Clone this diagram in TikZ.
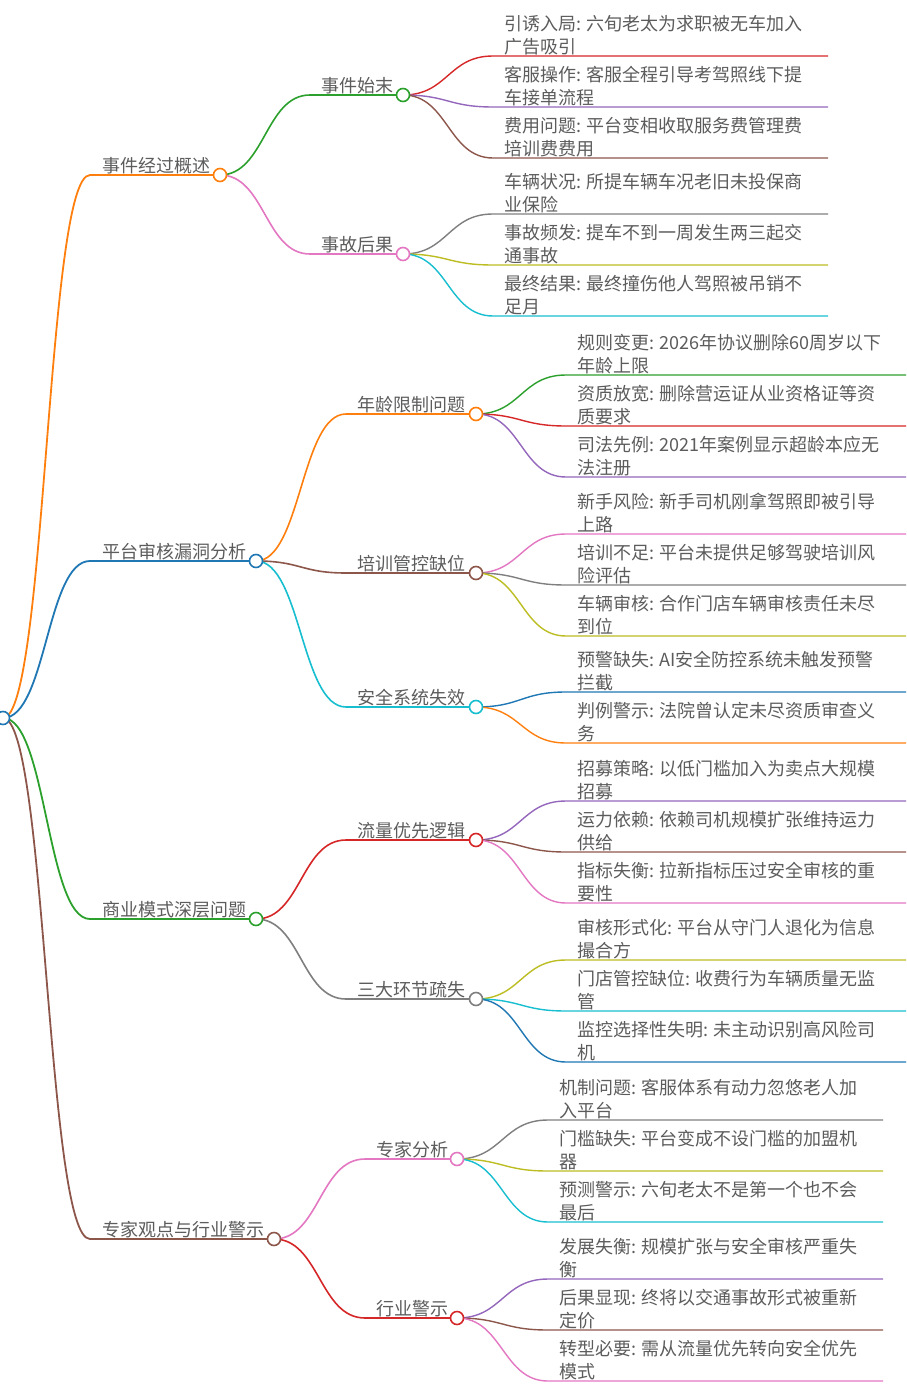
\documentclass[tikz,border=0pt]{standalone}
\usepackage{fontspec}
\usepackage{tikz}
\usetikzlibrary{calc,positioning}
\newfontfamily\cjk{Noto Sans CJK SC}
\definecolor{cblue}{HTML}{1F77B4}
\definecolor{corange}{HTML}{FF7F0E}
\definecolor{cgreen}{HTML}{2CA02C}
\definecolor{cred}{HTML}{D62728}
\definecolor{cpurple}{HTML}{9467BD}
\definecolor{cbrown}{HTML}{8C564B}
\definecolor{cpink}{HTML}{E377C2}
\definecolor{cgray}{HTML}{7F7F7F}
\definecolor{colive}{HTML}{BCBD22}
\definecolor{ccyan}{HTML}{17BECF}
\definecolor{txt}{HTML}{5C5C5C}
\tikzset{
    mm/.style = {to path={let \p1=(\tikztostart), \p2=(\tikztotarget) in
        .. controls ({(\x1+\x2)/2},\y1) and ({(\x1+\x2)/2},\y2) .. (\tikztotarget)}},
    lvone/.style = {line width=1.8},
    lvtwo/.style = {line width=1.6},
    lvleaf/.style = {line width=1.4},
    dot/.style = {circle, draw=#1, fill=white, line width=1.6, minimum size=13, inner sep=0},
    labtext/.style = {anchor=south west, inner sep=0, text=txt, font=\cjk\fontsize{18}{23}\selectfont},
    leaftext/.style = {anchor=south west, inner sep=0, align=left, text=txt, font=\cjk\fontsize{18}{23}\selectfont}
}

\begin{document}
\begin{tikzpicture}[x=1pt,y=-1pt]
                \useasboundingbox (0,0) rectangle (906,1388);
                \coordinate (root) at (3,718);

                % 事件经过概述
                \coordinate (gaishu) at (220,175);
                \coordinate (gaishu-s) at (90,175);
                \coordinate (shimo) at (403,95);
                \coordinate (shimo-s) at (310,95);
                \coordinate (houguo) at (403,254);
                \coordinate (houguo-s) at (310,254);
                \draw[lvone, corange] (root) to[mm] (gaishu-s) -- (gaishu);
                \draw[lvtwo, cgreen] (gaishu) to[mm] (shimo-s) -- (shimo);
                \draw[lvtwo, cpink] (gaishu) to[mm] (houguo-s) -- (houguo);

                \coordinate (yinyou) at (493,56);
                \coordinate (kefu) at (493,107);
                \coordinate (feiyong) at (493,158);
                \coordinate (cheliang) at (493,214);
                \coordinate (pinfa) at (493,265);
                \coordinate (jieguo) at (493,316);
                \draw[lvleaf, cred] (shimo) to[mm] (yinyou) -- ++(335,0);
                \draw[lvleaf, cpurple] (shimo) to[mm] (kefu) -- ++(335,0);
                \draw[lvleaf, cbrown] (shimo) to[mm] (feiyong) -- ++(335,0);
                \draw[lvleaf, cgray] (houguo) to[mm] (cheliang) -- ++(335,0);
                \draw[lvleaf, colive] (houguo) to[mm] (pinfa) -- ++(335,0);
                \draw[lvleaf, ccyan] (houguo) to[mm] (jieguo) -- ++(335,0);

                % 平台审核漏洞分析
                \coordinate (loudong) at (256,561);
                \coordinate (loudong-s) at (90,561);
                \coordinate (nianling) at (476,414);
                \coordinate (nianling-s) at (346,414);
                \coordinate (peixun) at (476,573);
                \coordinate (peixun-s) at (346,573);
                \coordinate (anquan) at (476,707);
                \coordinate (anquan-s) at (346,707);
                \draw[lvone, cblue] (root) to[mm] (loudong-s) -- (loudong);
                \draw[lvtwo, corange] (loudong) to[mm] (nianling-s) -- (nianling);
                \draw[lvtwo, cbrown] (loudong) to[mm] (peixun-s) -- (peixun);
                \draw[lvtwo, ccyan] (loudong) to[mm] (anquan-s) -- (anquan);

                \coordinate (guize) at (566,375);
                \coordinate (zizhi) at (566,426);
                \coordinate (sifa) at (566,477);
                \coordinate (xinshou) at (566,534);
                \coordinate (buzu) at (566,585);
                \coordinate (shenhe) at (566,636);
                \coordinate (yujing) at (566,692);
                \coordinate (panli) at (566,743);
                \draw[lvleaf, cgreen] (nianling) to[mm] (guize) -- ++(340,0);
                \draw[lvleaf, cred] (nianling) to[mm] (zizhi) -- ++(340,0);
                \draw[lvleaf, cpurple] (nianling) to[mm] (sifa) -- ++(340,0);
                \draw[lvleaf, cpink] (peixun) to[mm] (xinshou) -- ++(340,0);
                \draw[lvleaf, cgray] (peixun) to[mm] (buzu) -- ++(340,0);
                \draw[lvleaf, colive] (peixun) to[mm] (shenhe) -- ++(340,0);
                \draw[lvleaf, cblue] (anquan) to[mm] (yujing) -- ++(340,0);
                \draw[lvleaf, corange] (anquan) to[mm] (panli) -- ++(340,0);

                % 商业模式深层问题
                \coordinate (shangye) at (256,919);
                \coordinate (shangye-s) at (90,919);
                \coordinate (liuliang) at (476,840);
                \coordinate (liuliang-s) at (346,840);
                \coordinate (sanda) at (476,999);
                \coordinate (sanda-s) at (346,999);
                \draw[lvone, cgreen] (root) to[mm] (shangye-s) -- (shangye);
                \draw[lvtwo, cred] (shangye) to[mm] (liuliang-s) -- (liuliang);
                \draw[lvtwo, cgray] (shangye) to[mm] (sanda-s) -- (sanda);

                \coordinate (zhaomu) at (566,801);
                \coordinate (yunli) at (566,852);
                \coordinate (zhibiao) at (566,903);
                \coordinate (xingshi) at (566,960);
                \coordinate (mendian) at (566,1011);
                \coordinate (jiankong) at (566,1062);
                \draw[lvleaf, cpurple] (liuliang) to[mm] (zhaomu) -- ++(340,0);
                \draw[lvleaf, cbrown] (liuliang) to[mm] (yunli) -- ++(340,0);
                \draw[lvleaf, cpink] (liuliang) to[mm] (zhibiao) -- ++(340,0);
                \draw[lvleaf, colive] (sanda) to[mm] (xingshi) -- ++(340,0);
                \draw[lvleaf, ccyan] (sanda) to[mm] (mendian) -- ++(340,0);
                \draw[lvleaf, cblue] (sanda) to[mm] (jiankong) -- ++(340,0);

                % 专家观点与行业警示
                \coordinate (zhuanjia) at (274,1239);
                \coordinate (zhuanjia-s) at (90,1239);
                \coordinate (fenxi) at (457,1159);
                \coordinate (fenxi-s) at (365,1159);
                \coordinate (hangye) at (457,1318);
                \coordinate (hangye-s) at (365,1318);
                \draw[lvone, cbrown] (root) to[mm] (zhuanjia-s) -- (zhuanjia);
                \draw[lvtwo, cpink] (zhuanjia) to[mm] (fenxi-s) -- (fenxi);
                \draw[lvtwo, cred] (zhuanjia) to[mm] (hangye-s) -- (hangye);

                \coordinate (jizhi) at (548,1120);
                \coordinate (menkan) at (548,1171);
                \coordinate (yuce) at (548,1222);
                \coordinate (fazhan) at (548,1279);
                \coordinate (xianxian) at (548,1330);
                \coordinate (zhuanxing) at (548,1381);
                \draw[lvleaf, cgray] (fenxi) to[mm] (jizhi) -- ++(335,0);
                \draw[lvleaf, colive] (fenxi) to[mm] (menkan) -- ++(335,0);
                \draw[lvleaf, ccyan] (fenxi) to[mm] (yuce) -- ++(335,0);
                \draw[lvleaf, cpurple] (hangye) to[mm] (fazhan) -- ++(335,0);
                \draw[lvleaf, cbrown] (hangye) to[mm] (xianxian) -- ++(335,0);
                \draw[lvleaf, cpink] (hangye) to[mm] (zhuanxing) -- ++(335,0);

                %% circles
                \node[dot=cblue] (root-c) at (root) {};
                \node[dot=corange] (gaishu-c) at (gaishu) {};
                \node[dot=cgreen] (shimo-c) at (shimo) {};
                \node[dot=cpink] (houguo-c) at (houguo) {};
                \node[dot=cblue] (loudong-c) at (loudong) {};
                \node[dot=corange] (nianling-c) at (nianling) {};
                \node[dot=cbrown] (peixun-c) at (peixun) {};
                \node[dot=ccyan] (anquan-c) at (anquan) {};
                \node[dot=cgreen] (shangye-c) at (shangye) {};
                \node[dot=cred] (liuliang-c) at (liuliang) {};
                \node[dot=cgray] (sanda-c) at (sanda) {};
                \node[dot=cbrown] (zhuanjia-c) at (zhuanjia) {};
                \node[dot=cpink] (fenxi-c) at (fenxi) {};
                \node[dot=cred] (hangye-c) at (hangye) {};

                %% branch labels
                \node[labtext] (gaishu-t) at ($(gaishu-s)+(12,-1)$) {事件经过概述};
                \node[labtext] (shimo-t) at ($(shimo-s)+(11,-1)$) {事件始末};
                \node[labtext] (houguo-t) at ($(houguo-s)+(11,-1)$) {事故后果};
                \node[labtext] (loudong-t) at ($(loudong-s)+(12,-1)$) {平台审核漏洞分析};
                \node[labtext] (nianling-t) at ($(nianling-s)+(11,-1)$) {年龄限制问题};
                \node[labtext] (peixun-t) at ($(peixun-s)+(11,-1)$) {培训管控缺位};
                \node[labtext] (anquan-t) at ($(anquan-s)+(11,-1)$) {安全系统失效};
                \node[labtext] (shangye-t) at ($(shangye-s)+(12,-1)$) {商业模式深层问题};
                \node[labtext] (liuliang-t) at ($(liuliang-s)+(11,-1)$) {流量优先逻辑};
                \node[labtext] (sanda-t) at ($(sanda-s)+(11,-1)$) {三大环节疏失};
                \node[labtext] (zhuanjia-t) at ($(zhuanjia-s)+(12,-1)$) {专家观点与行业警示};
                \node[labtext] (fenxi-t) at ($(fenxi-s)+(11,-1)$) {专家分析};
                \node[labtext] (hangye-t) at ($(hangye-s)+(11,-1)$) {行业警示};

                %% leaf texts
                \node[leaftext] (yinyou-t) at ($(yinyou)+(11,-1)$) {引诱入局: 六旬老太为求职被无车加入\\广告吸引};
                \node[leaftext] (kefu-t) at ($(kefu)+(11,-1)$) {客服操作: 客服全程引导考驾照线下提\\车接单流程};
                \node[leaftext] (feiyong-t) at ($(feiyong)+(11,-1)$) {费用问题: 平台变相收取服务费管理费\\培训费费用};
                \node[leaftext] (cheliang-t) at ($(cheliang)+(11,-1)$) {车辆状况: 所提车辆车况老旧未投保商\\业保险};
                \node[leaftext] (pinfa-t) at ($(pinfa)+(11,-1)$) {事故频发: 提车不到一周发生两三起交\\通事故};
                \node[leaftext] (jieguo-t) at ($(jieguo)+(11,-1)$) {最终结果: 最终撞伤他人驾照被吊销不\\足月};

                \node[leaftext] (guize-t) at ($(guize)+(11,-1)$) {规则变更: 2026年协议删除60周岁以下\\年龄上限};
                \node[leaftext] (zizhi-t) at ($(zizhi)+(11,-1)$) {资质放宽: 删除营运证从业资格证等资\\质要求};
                \node[leaftext] (sifa-t) at ($(sifa)+(11,-1)$) {司法先例: 2021年案例显示超龄本应无\\法注册};
                \node[leaftext] (xinshou-t) at ($(xinshou)+(11,-1)$) {新手风险: 新手司机刚拿驾照即被引导\\上路};
                \node[leaftext] (buzu-t) at ($(buzu)+(11,-1)$) {培训不足: 平台未提供足够驾驶培训风\\险评估};
                \node[leaftext] (shenhe-t) at ($(shenhe)+(11,-1)$) {车辆审核: 合作门店车辆审核责任未尽\\到位};
                \node[leaftext] (yujing-t) at ($(yujing)+(11,-1)$) {预警缺失: AI安全防控系统未触发预警\\拦截};
                \node[leaftext] (panli-t) at ($(panli)+(11,-1)$) {判例警示: 法院曾认定未尽资质审查义\\务};

                \node[leaftext] (zhaomu-t) at ($(zhaomu)+(11,-1)$) {招募策略: 以低门槛加入为卖点大规模\\招募};
                \node[leaftext] (yunli-t) at ($(yunli)+(11,-1)$) {运力依赖: 依赖司机规模扩张维持运力\\供给};
                \node[leaftext] (zhibiao-t) at ($(zhibiao)+(11,-1)$) {指标失衡: 拉新指标压过安全审核的重\\要性};
                \node[leaftext] (xingshi-t) at ($(xingshi)+(11,-1)$) {审核形式化: 平台从守门人退化为信息\\撮合方};
                \node[leaftext] (mendian-t) at ($(mendian)+(11,-1)$) {门店管控缺位: 收费行为车辆质量无监\\管};
                \node[leaftext] (jiankong-t) at ($(jiankong)+(11,-1)$) {监控选择性失明: 未主动识别高风险司\\机};

                \node[leaftext] (jizhi-t) at ($(jizhi)+(11,-1)$) {机制问题: 客服体系有动力忽悠老人加\\入平台};
                \node[leaftext] (menkan-t) at ($(menkan)+(11,-1)$) {门槛缺失: 平台变成不设门槛的加盟机\\器};
                \node[leaftext] (yuce-t) at ($(yuce)+(11,-1)$) {预测警示: 六旬老太不是第一个也不会\\最后};
                \node[leaftext] (fazhan-t) at ($(fazhan)+(11,-1)$) {发展失衡: 规模扩张与安全审核严重失\\衡};
                \node[leaftext] (xianxian-t) at ($(xianxian)+(11,-1)$) {后果显现: 终将以交通事故形式被重新\\定价};
                \node[leaftext] (zhuanxing-t) at ($(zhuanxing)+(11,-1)$) {转型必要: 需从流量优先转向安全优先\\模式};

            \end{tikzpicture}
\end{document}
